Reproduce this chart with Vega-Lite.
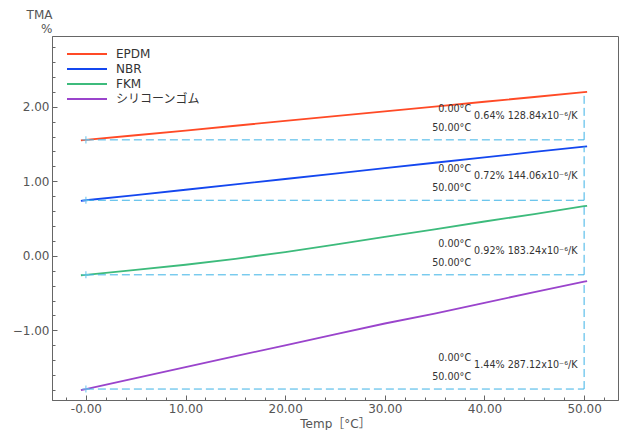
{
  "$schema": "https://vega.github.io/schema/vega-lite/v6.json",
  "width": 566,
  "height": 364,
  "autosize": {"type": "none"},
  "padding": {"left": 52, "top": 36, "right": 4, "bottom": 30},
  "background": "white",
  "config": {
    "view": {"stroke": "#666", "strokeWidth": 1},
    "font": "DejaVu Sans",
    "axis": {
      "domainColor": "#666",
      "tickColor": "#666",
      "labelColor": "#555",
      "titleColor": "#555",
      "labelFont": "DejaVu Sans",
      "titleFont": "DejaVu Sans, Noto Sans CJK JP",
      "labelFontSize": 12,
      "titleFontSize": 12,
      "titleFontWeight": "normal",
      "labelOverlap": false,
      "labelFlush": false,
      "labelPadding": 8,
      "grid": false
    },
    "axisX": {"titlePadding": 2},
    "axisY": {"titleAngle": 0, "titleAlign": "right", "titleBaseline": "top", "titleX": 0, "titleY": -27, "titleLineHeight": 14}
  },
  "datasets": {
    "curves": [
      {"m": "EPDM", "t": -0.5, "v": 1.549}, {"m": "EPDM", "t": 0, "v": 1.555}, {"m": "EPDM", "t": 5, "v": 1.617}, {"m": "EPDM", "t": 10, "v": 1.68}, {"m": "EPDM", "t": 15, "v": 1.744}, {"m": "EPDM", "t": 20, "v": 1.809}, {"m": "EPDM", "t": 25, "v": 1.874}, {"m": "EPDM", "t": 30, "v": 1.938}, {"m": "EPDM", "t": 35, "v": 2.002}, {"m": "EPDM", "t": 40, "v": 2.066}, {"m": "EPDM", "t": 45, "v": 2.13}, {"m": "EPDM", "t": 50, "v": 2.195}, {"m": "EPDM", "t": 50.3, "v": 2.199},
      {"m": "NBR", "t": -0.5, "v": 0.738}, {"m": "NBR", "t": 0, "v": 0.745}, {"m": "NBR", "t": 5, "v": 0.815}, {"m": "NBR", "t": 10, "v": 0.886}, {"m": "NBR", "t": 15, "v": 0.958}, {"m": "NBR", "t": 20, "v": 1.03}, {"m": "NBR", "t": 25, "v": 1.103}, {"m": "NBR", "t": 30, "v": 1.175}, {"m": "NBR", "t": 35, "v": 1.248}, {"m": "NBR", "t": 40, "v": 1.32}, {"m": "NBR", "t": 45, "v": 1.393}, {"m": "NBR", "t": 50, "v": 1.465}, {"m": "NBR", "t": 50.3, "v": 1.469},
      {"m": "FKM", "t": -0.5, "v": -0.261}, {"m": "FKM", "t": 0, "v": -0.255}, {"m": "FKM", "t": 5, "v": -0.19}, {"m": "FKM", "t": 10, "v": -0.12}, {"m": "FKM", "t": 15, "v": -0.04}, {"m": "FKM", "t": 20, "v": 0.05}, {"m": "FKM", "t": 25, "v": 0.15}, {"m": "FKM", "t": 30, "v": 0.255}, {"m": "FKM", "t": 35, "v": 0.355}, {"m": "FKM", "t": 40, "v": 0.46}, {"m": "FKM", "t": 45, "v": 0.56}, {"m": "FKM", "t": 50, "v": 0.665}, {"m": "FKM", "t": 50.3, "v": 0.671},
      {"m": "シリコーンゴム", "t": -0.5, "v": -1.802}, {"m": "シリコーンゴム", "t": 0, "v": -1.787}, {"m": "シリコーンゴム", "t": 5, "v": -1.64}, {"m": "シリコーンゴム", "t": 10, "v": -1.493}, {"m": "シリコーンゴム", "t": 15, "v": -1.347}, {"m": "シリコーンゴム", "t": 20, "v": -1.2}, {"m": "シリコーンゴム", "t": 25, "v": -1.054}, {"m": "シリコーンゴム", "t": 30, "v": -0.908}, {"m": "シリコーンゴム", "t": 35, "v": -0.774}, {"m": "シリコーンゴム", "t": 40, "v": -0.63}, {"m": "シリコーンゴム", "t": 45, "v": -0.488}, {"m": "シリコーンゴム", "t": 50, "v": -0.347}, {"m": "シリコーンゴム", "t": 50.3, "v": -0.339}
    ],
    "marks": [
      {"m": "EPDM", "t0": 0, "t1": 50, "v0": 1.555, "v1": 2.195, "l0": "0.00°C", "l1": "50.00°C", "res": "0.64% 128.84x10⁻⁶/K"},
      {"m": "NBR", "t0": 0, "t1": 50, "v0": 0.745, "v1": 1.465, "l0": "0.00°C", "l1": "50.00°C", "res": "0.72% 144.06x10⁻⁶/K"},
      {"m": "FKM", "t0": 0, "t1": 50, "v0": -0.255, "v1": 0.665, "l0": "0.00°C", "l1": "50.00°C", "res": "0.92% 183.24x10⁻⁶/K"},
      {"m": "シリコーンゴム", "t0": 0, "t1": 50, "v0": -1.787, "v1": -0.347, "l0": "0.00°C", "l1": "50.00°C", "res": "1.44% 287.12x10⁻⁶/K"}
    ]
  },
  "layer": [
    {
      "data": {"name": "curves"},
      "mark": {"type": "line", "strokeWidth": 1.8},
      "encoding": {
        "x": {"field": "t", "type": "quantitative", "scale": {"domain": [-3.4, 53.4], "nice": false, "zero": false},
          "axis": {"title": "Temp［°C］", "values": [-2, 0, 2, 4, 6, 8, 10, 12, 14, 16, 18, 20, 22, 24, 26, 28, 30, 32, 34, 36, 38, 40, 42, 44, 46, 48, 50, 52],
            "labelExpr": "datum.value == 0 ? '-0.00' : (abs(datum.value % 10) < 0.001 ? format(datum.value, '.2f') : '')",
            "tickSize": {"condition": {"test": "abs(datum.value % 10) < 0.001", "value": -5}, "value": -3}}},
        "y": {"field": "v", "type": "quantitative", "scale": {"domain": [-1.934, 2.948], "nice": false, "zero": false},
          "axis": {"title": ["TMA", "%"], "values": [-1.8, -1.6, -1.4, -1.2, -1.0, -0.8, -0.6, -0.4, -0.2, 0, 0.2, 0.4, 0.6, 0.8, 1.0, 1.2, 1.4, 1.6, 1.8, 2.0, 2.2, 2.4, 2.6, 2.8],
            "labelExpr": "abs(datum.value - round(datum.value)) < 0.001 ? format(datum.value, '.2f') : ''",
            "tickSize": {"condition": {"test": "abs(datum.value - round(datum.value)) < 0.001", "value": -5}, "value": -3}}},
        "color": {
          "field": "m", "type": "nominal",
          "scale": {"domain": ["EPDM", "NBR", "FKM", "シリコーンゴム"], "range": ["#ff4a26", "#1447ef", "#3dbb7c", "#9a44cc"]},
          "legend": {
            "title": null,
            "orient": "none",
            "legendX": 29,
            "legendY": 12,
            "symbolType": "M-4,0H4",
            "symbolSize": 100,
            "symbolStrokeWidth": 2,
            "labelFont": "DejaVu Sans, Noto Sans CJK JP",
            "labelFontSize": 12,
            "labelColor": "#333",
            "labelOffset": 23,
            "rowPadding": 3
          }
        }
      }
    },
    {
      "data": {"name": "marks"},
      "mark": {"type": "rule", "color": "#3db3e6", "strokeDash": [8, 4], "strokeWidth": 1},
      "encoding": {
        "x": {"field": "t0", "type": "quantitative",
          "axis": {"title": "Temp［°C］", "values": [-2, 0, 2, 4, 6, 8, 10, 12, 14, 16, 18, 20, 22, 24, 26, 28, 30, 32, 34, 36, 38, 40, 42, 44, 46, 48, 50, 52],
            "labelExpr": "datum.value == 0 ? '-0.00' : (abs(datum.value % 10) < 0.001 ? format(datum.value, '.2f') : '')",
            "tickSize": {"condition": {"test": "abs(datum.value % 10) < 0.001", "value": -5}, "value": -3}}},
        "x2": {"field": "t1"},
        "y": {"field": "v0", "type": "quantitative",
          "axis": {"title": ["TMA", "%"], "values": [-1.8, -1.6, -1.4, -1.2, -1.0, -0.8, -0.6, -0.4, -0.2, 0, 0.2, 0.4, 0.6, 0.8, 1.0, 1.2, 1.4, 1.6, 1.8, 2.0, 2.2, 2.4, 2.6, 2.8],
            "labelExpr": "abs(datum.value - round(datum.value)) < 0.001 ? format(datum.value, '.2f') : ''",
            "tickSize": {"condition": {"test": "abs(datum.value - round(datum.value)) < 0.001", "value": -5}, "value": -3}}}
      }
    },
    {
      "data": {"name": "marks"},
      "mark": {"type": "rule", "color": "#3db3e6", "strokeDash": [8, 4], "strokeWidth": 1},
      "encoding": {
        "x": {"field": "t1", "type": "quantitative",
          "axis": {"title": "Temp［°C］", "values": [-2, 0, 2, 4, 6, 8, 10, 12, 14, 16, 18, 20, 22, 24, 26, 28, 30, 32, 34, 36, 38, 40, 42, 44, 46, 48, 50, 52],
            "labelExpr": "datum.value == 0 ? '-0.00' : (abs(datum.value % 10) < 0.001 ? format(datum.value, '.2f') : '')",
            "tickSize": {"condition": {"test": "abs(datum.value % 10) < 0.001", "value": -5}, "value": -3}}},
        "y": {"field": "v0", "type": "quantitative",
          "axis": {"title": ["TMA", "%"], "values": [-1.8, -1.6, -1.4, -1.2, -1.0, -0.8, -0.6, -0.4, -0.2, 0, 0.2, 0.4, 0.6, 0.8, 1.0, 1.2, 1.4, 1.6, 1.8, 2.0, 2.2, 2.4, 2.6, 2.8],
            "labelExpr": "abs(datum.value - round(datum.value)) < 0.001 ? format(datum.value, '.2f') : ''",
            "tickSize": {"condition": {"test": "abs(datum.value - round(datum.value)) < 0.001", "value": -5}, "value": -3}}},
        "y2": {"field": "v1"}
      }
    },
    {
      "data": {"name": "marks"},
      "mark": {"type": "point", "shape": "M-1,0H1M0,-1V1", "size": 50, "stroke": "#6cc6ee", "strokeWidth": 1.5, "filled": false},
      "encoding": {
        "x": {"field": "t0", "type": "quantitative",
          "axis": {"title": "Temp［°C］", "values": [-2, 0, 2, 4, 6, 8, 10, 12, 14, 16, 18, 20, 22, 24, 26, 28, 30, 32, 34, 36, 38, 40, 42, 44, 46, 48, 50, 52],
            "labelExpr": "datum.value == 0 ? '-0.00' : (abs(datum.value % 10) < 0.001 ? format(datum.value, '.2f') : '')",
            "tickSize": {"condition": {"test": "abs(datum.value % 10) < 0.001", "value": -5}, "value": -3}}},
        "y": {"field": "v0", "type": "quantitative",
          "axis": {"title": ["TMA", "%"], "values": [-1.8, -1.6, -1.4, -1.2, -1.0, -0.8, -0.6, -0.4, -0.2, 0, 0.2, 0.4, 0.6, 0.8, 1.0, 1.2, 1.4, 1.6, 1.8, 2.0, 2.2, 2.4, 2.6, 2.8],
            "labelExpr": "abs(datum.value - round(datum.value)) < 0.001 ? format(datum.value, '.2f') : ''",
            "tickSize": {"condition": {"test": "abs(datum.value - round(datum.value)) < 0.001", "value": -5}, "value": -3}}}
      }
    },
    {
      "data": {"name": "marks"},
      "mark": {"type": "text", "align": "right", "baseline": "middle", "dx": -113, "dy": -31, "fontSize": 9.6, "color": "#333"},
      "encoding": {
        "x": {"field": "t1", "type": "quantitative",
          "axis": {"title": "Temp［°C］", "values": [-2, 0, 2, 4, 6, 8, 10, 12, 14, 16, 18, 20, 22, 24, 26, 28, 30, 32, 34, 36, 38, 40, 42, 44, 46, 48, 50, 52],
            "labelExpr": "datum.value == 0 ? '-0.00' : (abs(datum.value % 10) < 0.001 ? format(datum.value, '.2f') : '')",
            "tickSize": {"condition": {"test": "abs(datum.value % 10) < 0.001", "value": -5}, "value": -3}}},
        "y": {"field": "v0", "type": "quantitative",
          "axis": {"title": ["TMA", "%"], "values": [-1.8, -1.6, -1.4, -1.2, -1.0, -0.8, -0.6, -0.4, -0.2, 0, 0.2, 0.4, 0.6, 0.8, 1.0, 1.2, 1.4, 1.6, 1.8, 2.0, 2.2, 2.4, 2.6, 2.8],
            "labelExpr": "abs(datum.value - round(datum.value)) < 0.001 ? format(datum.value, '.2f') : ''",
            "tickSize": {"condition": {"test": "abs(datum.value - round(datum.value)) < 0.001", "value": -5}, "value": -3}}},
        "text": {"field": "l0"}
      }
    },
    {
      "data": {"name": "marks"},
      "mark": {"type": "text", "align": "right", "baseline": "middle", "dx": -113, "dy": -12, "fontSize": 9.6, "color": "#333"},
      "encoding": {
        "x": {"field": "t1", "type": "quantitative",
          "axis": {"title": "Temp［°C］", "values": [-2, 0, 2, 4, 6, 8, 10, 12, 14, 16, 18, 20, 22, 24, 26, 28, 30, 32, 34, 36, 38, 40, 42, 44, 46, 48, 50, 52],
            "labelExpr": "datum.value == 0 ? '-0.00' : (abs(datum.value % 10) < 0.001 ? format(datum.value, '.2f') : '')",
            "tickSize": {"condition": {"test": "abs(datum.value % 10) < 0.001", "value": -5}, "value": -3}}},
        "y": {"field": "v0", "type": "quantitative",
          "axis": {"title": ["TMA", "%"], "values": [-1.8, -1.6, -1.4, -1.2, -1.0, -0.8, -0.6, -0.4, -0.2, 0, 0.2, 0.4, 0.6, 0.8, 1.0, 1.2, 1.4, 1.6, 1.8, 2.0, 2.2, 2.4, 2.6, 2.8],
            "labelExpr": "abs(datum.value - round(datum.value)) < 0.001 ? format(datum.value, '.2f') : ''",
            "tickSize": {"condition": {"test": "abs(datum.value - round(datum.value)) < 0.001", "value": -5}, "value": -3}}},
        "text": {"field": "l1"}
      }
    },
    {
      "data": {"name": "marks"},
      "mark": {"type": "text", "align": "left", "baseline": "middle", "dx": -110, "dy": -24, "fontSize": 9.6, "color": "#333"},
      "encoding": {
        "x": {"field": "t1", "type": "quantitative",
          "axis": {"title": "Temp［°C］", "values": [-2, 0, 2, 4, 6, 8, 10, 12, 14, 16, 18, 20, 22, 24, 26, 28, 30, 32, 34, 36, 38, 40, 42, 44, 46, 48, 50, 52],
            "labelExpr": "datum.value == 0 ? '-0.00' : (abs(datum.value % 10) < 0.001 ? format(datum.value, '.2f') : '')",
            "tickSize": {"condition": {"test": "abs(datum.value % 10) < 0.001", "value": -5}, "value": -3}}},
        "y": {"field": "v0", "type": "quantitative",
          "axis": {"title": ["TMA", "%"], "values": [-1.8, -1.6, -1.4, -1.2, -1.0, -0.8, -0.6, -0.4, -0.2, 0, 0.2, 0.4, 0.6, 0.8, 1.0, 1.2, 1.4, 1.6, 1.8, 2.0, 2.2, 2.4, 2.6, 2.8],
            "labelExpr": "abs(datum.value - round(datum.value)) < 0.001 ? format(datum.value, '.2f') : ''",
            "tickSize": {"condition": {"test": "abs(datum.value - round(datum.value)) < 0.001", "value": -5}, "value": -3}}},
        "text": {"field": "res"}
      }
    }
  ]
}
